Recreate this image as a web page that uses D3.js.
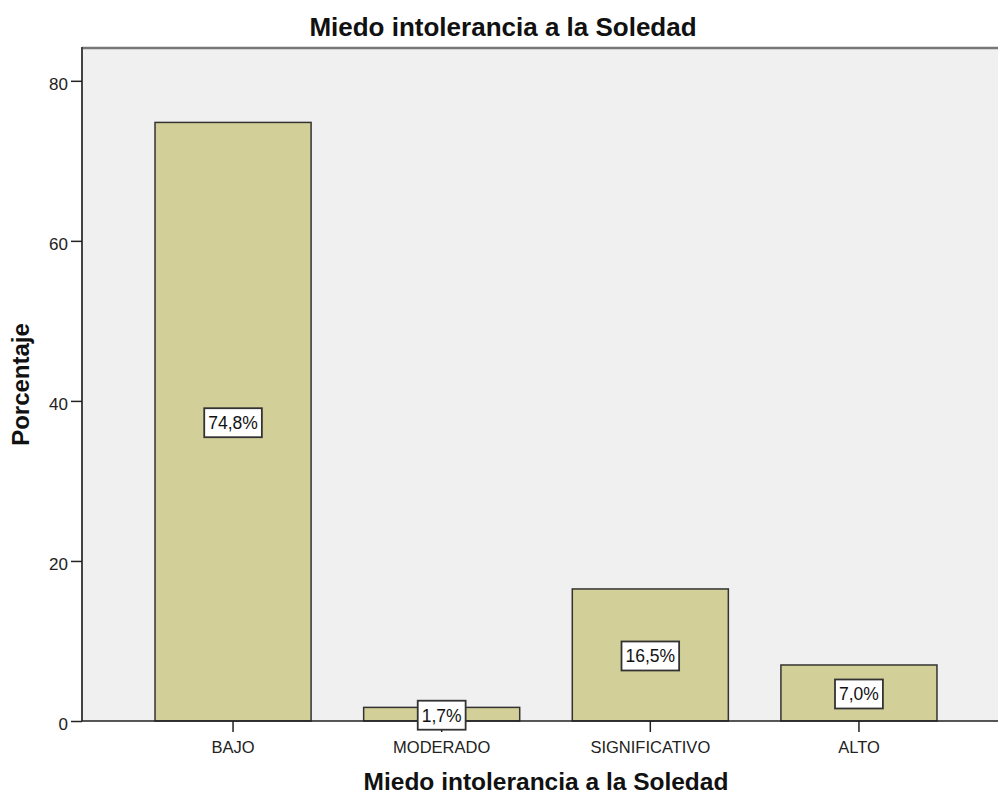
<!DOCTYPE html>
<html>
<head>
    <meta charset="utf-8">
    <script src="https://d3js.org/d3.v7.min.js"></script>
    <style>
        body { margin: 0; background: #fff; }
        text { font-family: "Liberation Sans", Arial, sans-serif; fill: #111; }
    </style>
</head>
<body>
    <script>
        var categories = ["BAJO", "MODERADO", "SIGNIFICATIVO", "ALTO"];
        var values = [74.8, 1.7, 16.5, 7.0];
        var valueLabels = ["74,8%", "1,7%", "16,5%", "7,0%"];
        var yTicks = [0, 20, 40, 60, 80];

        var width = 998, height = 794;
        var plotLeft = 82, plotTop = 48, plotBottom = 721, plotRight = 1010;

        var svg = d3.select("body").append("svg")
            .attr("width", width)
            .attr("height", height);

        var x = d3.scaleBand()
            .domain(categories)
            .range([plotLeft, plotRight])
            .paddingInner(0.252)
            .paddingOuter(0.35);

        var y = d3.scaleLinear()
            .domain([0, 84.1])
            .range([plotBottom, plotTop]);

        // plot background
        svg.append("rect")
            .attr("x", plotLeft)
            .attr("y", plotTop)
            .attr("width", plotRight - plotLeft)
            .attr("height", plotBottom - plotTop)
            .style("fill", "#f0f0f0");

        svg.append("line")
            .attr("x1", plotLeft).attr("x2", plotRight)
            .attr("y1", plotTop).attr("y2", plotTop)
            .style("stroke", "#777")
            .style("stroke-width", 2.5);

        // bars
        svg.append("g")
            .selectAll("rect")
            .data(categories)
            .enter().append("rect")
            .attr("x", d => x(d))
            .attr("y", (d, i) => y(values[i]))
            .attr("width", x.bandwidth())
            .attr("height", (d, i) => y(0) - y(values[i]))
            .style("fill", "#d3cf98")
            .style("stroke", "#333")
            .style("stroke-width", 1.5);

        // y axis
        var yAxis = svg.append("g")
            .attr("transform", "translate(" + plotLeft + ",0)")
            .call(d3.axisLeft(y).tickValues(yTicks).tickSize(11).tickPadding(3));
        yAxis.select(".domain").attr("d", "M0," + (plotTop - 1) + "V" + plotBottom)
            .style("stroke", "#444").style("stroke-width", 2);
        yAxis.selectAll(".tick line").style("stroke", "#222").style("stroke-width", 1.5);
        yAxis.selectAll(".tick text")
            .style("font-size", "17px")
            .style("fill", "#222")
            .attr("dy", "0.52em");

        // x axis
        var xAxis = svg.append("g")
            .attr("transform", "translate(0," + plotBottom + ")")
            .call(d3.axisBottom(x).tickSize(11).tickPadding(6));
        xAxis.select(".domain").attr("d", "M" + plotLeft + ",0H" + plotRight)
            .style("stroke", "#222").style("stroke-width", 1.5);
        xAxis.selectAll(".tick line").style("stroke", "#222").style("stroke-width", 1.5);
        xAxis.selectAll(".tick text")
            .style("font-size", "16.5px")
            .style("fill", "#222")
            .attr("dy", "0.9em");

        // value labels
        var labels = svg.append("g")
            .selectAll("g")
            .data(categories)
            .enter().append("g")
            .attr("transform", (d, i) => "translate(" + (x(d) + x.bandwidth() / 2) + "," + (y(values[i] / 2) + 1) + ")");

        labels.append("text")
            .attr("text-anchor", "middle")
            .attr("dy", "0.36em")
            .style("font-size", "17.5px")
            .text((d, i) => valueLabels[i]);

        labels.each(function () {
            var g = d3.select(this);
            var bb = g.select("text").node().getBBox();
            g.insert("rect", "text")
                .attr("x", bb.x - 4)
                .attr("y", -14.5)
                .attr("width", bb.width + 8)
                .attr("height", 29)
                .style("fill", "#fff")
                .style("stroke", "#333")
                .style("stroke-width", 1.8);
        });

        // titles
        svg.append("text")
            .attr("x", 503)
            .attr("y", 36)
            .attr("text-anchor", "middle")
            .style("font-size", "26px")
            .style("font-weight", "bold")
            .text("Miedo intolerancia a la Soledad");

        svg.append("text")
            .attr("x", 546)
            .attr("y", 790)
            .attr("text-anchor", "middle")
            .style("font-size", "24.5px")
            .style("font-weight", "bold")
            .text("Miedo intolerancia a la Soledad");

        svg.append("text")
            .attr("transform", "translate(29," + ((plotTop + plotBottom) / 2) + ") rotate(-90)")
            .attr("text-anchor", "middle")
            .style("font-size", "24px")
            .style("font-weight", "bold")
            .text("Porcentaje");
    </script>
</body>
</html>
